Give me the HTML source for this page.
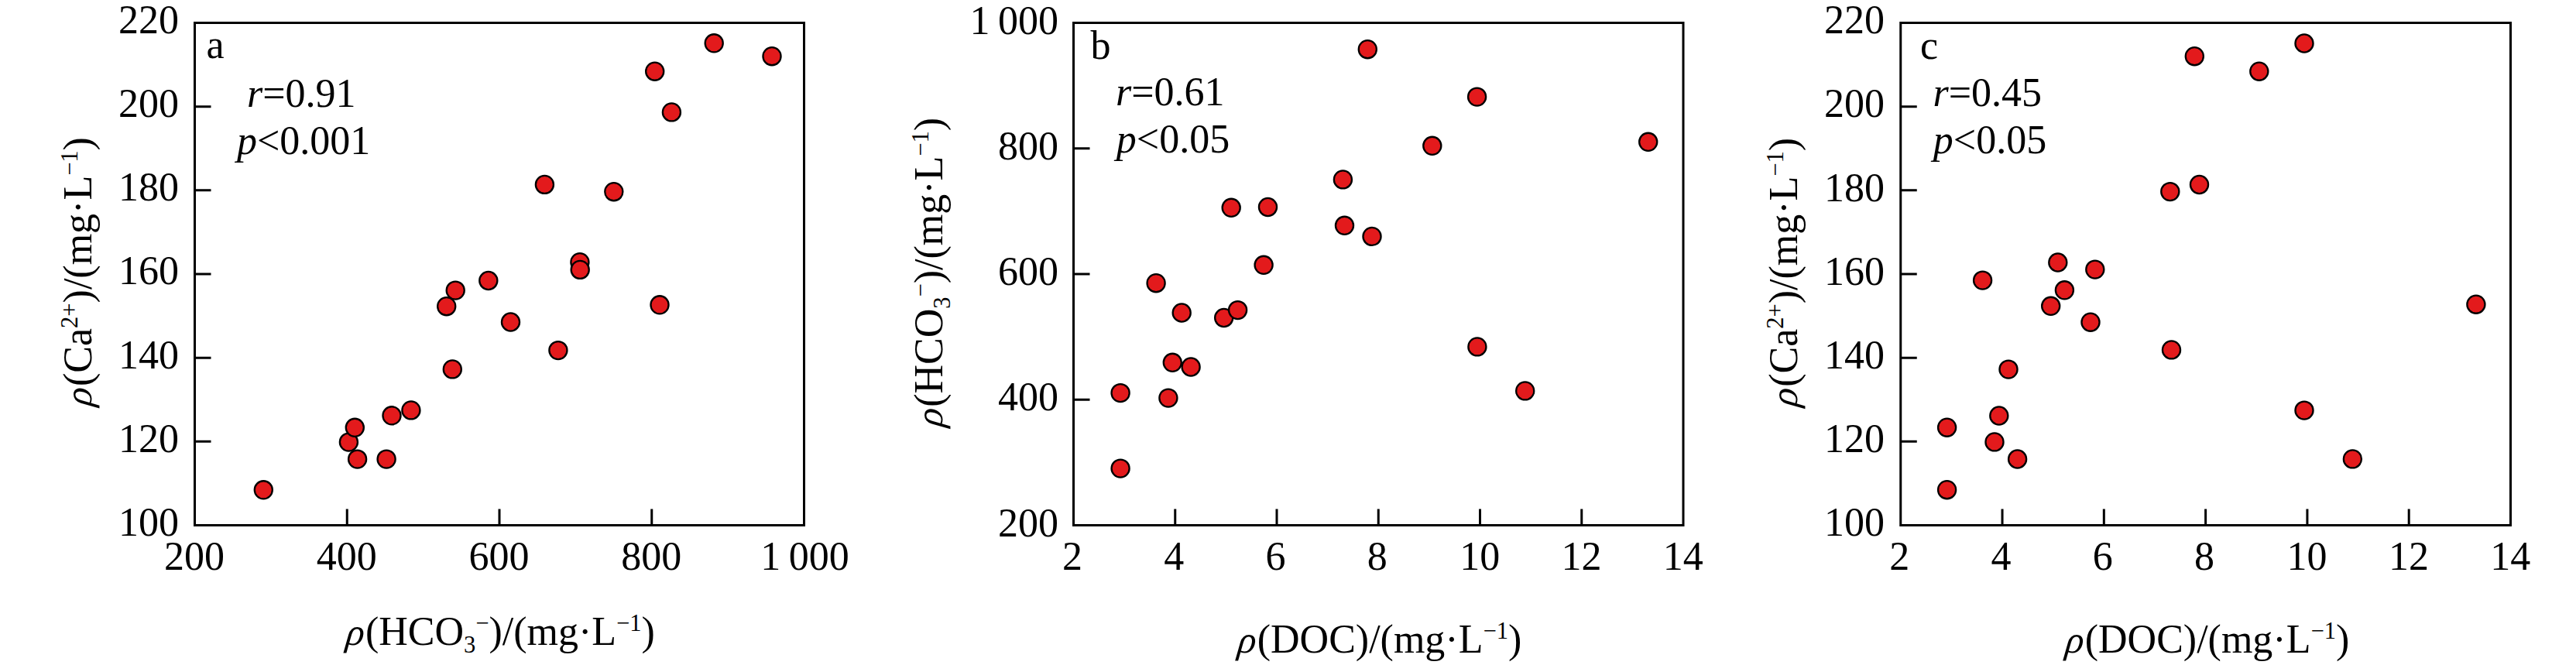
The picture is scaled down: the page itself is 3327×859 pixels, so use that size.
<!DOCTYPE html>
<html><head><meta charset="utf-8"><title>Scatter plots</title>
<style>html,body{margin:0;padding:0;background:#fff}svg{display:block}text{font-family:"Liberation Serif",serif;fill:#000}</style></head><body>
<svg width="3327" height="859" viewBox="0 0 3327 859" font-size="52">
<rect width="3327" height="859" fill="#fff"/>
<g id="panel-a">
<g fill="#e31a1c" stroke="#000" stroke-width="2.3">
<circle cx="340.3" cy="632.8" r="11.55"/>
<circle cx="461.6" cy="593.1" r="11.55"/>
<circle cx="499.1" cy="593.1" r="11.55"/>
<circle cx="450.4" cy="571.1" r="11.55"/>
<circle cx="458.3" cy="552.3" r="11.55"/>
<circle cx="506" cy="536.8" r="11.55"/>
<circle cx="530.9" cy="529.9" r="11.55"/>
<circle cx="584.3" cy="476.9" r="11.55"/>
<circle cx="576.7" cy="395.7" r="11.55"/>
<circle cx="588.2" cy="375.1" r="11.55"/>
<circle cx="630.8" cy="362.5" r="11.55"/>
<circle cx="659.5" cy="416.0" r="11.55"/>
<circle cx="748.9" cy="338.7" r="11.55"/>
<circle cx="749.2" cy="348.4" r="11.55"/>
<circle cx="852" cy="393.8" r="11.55"/>
<circle cx="703.4" cy="238.4" r="11.55"/>
<circle cx="792.8" cy="247.7" r="11.55"/>
<circle cx="720.9" cy="452.6" r="11.55"/>
<circle cx="845.7" cy="92.2" r="11.55"/>
<circle cx="867.4" cy="144.9" r="11.55"/>
<circle cx="922.2" cy="55.8" r="11.55"/>
<circle cx="997" cy="72.7" r="11.55"/>
</g>
<g stroke="#000" stroke-width="3" fill="none">
<rect x="251.5" y="29.5" width="787.0" height="649.0"/>
<path d="M251.5 137.67h21M251.5 245.83h21M251.5 354.00h21M251.5 462.17h21M251.5 570.33h21M448.25 678.5v-21M645.00 678.5v-21M841.75 678.5v-21"/>
</g>
<g text-anchor="end">
<text x="231" y="42.90">220</text>
<text x="231" y="151.07">200</text>
<text x="231" y="259.23">180</text>
<text x="231" y="367.40">160</text>
<text x="231" y="475.57">140</text>
<text x="231" y="583.73">120</text>
<text x="231" y="691.90">100</text>
</g><g text-anchor="middle">
<text x="251.00" y="736">200</text>
<text x="447.75" y="736">400</text>
<text x="644.50" y="736">600</text>
<text x="841.25" y="736">800</text>
<text x="1039.50" y="736">1 000</text>
</g>
<text transform="translate(443.25 833.4) skewX(-16)" font-size="49">ρ</text><text x="471.95" y="833.4">(HCO<tspan font-size="30.5" dy="9.5">3</tspan><tspan font-size="30.5" dy="-27.5">−</tspan><tspan dy="18">)/(mg·L</tspan><tspan font-size="30.5" dy="-18">−1</tspan><tspan dy="18">)</tspan></text>
<g transform="translate(118 350.5) rotate(-90)"><text transform="translate(-177.18 0) skewX(-16)" font-size="49">ρ</text><text x="-148.48" y="0">(Ca<tspan font-size="30.5" dy="-18">2+</tspan><tspan dy="18">)/(mg·L</tspan><tspan font-size="30.5" dy="-18">−1</tspan><tspan dy="18">)</tspan></text></g>
<text x="266.6" y="75.3">a</text>
<text text-anchor="middle" x="389.2" y="137.6"><tspan font-style="italic">r</tspan>=0.91</text>
<text text-anchor="middle" x="392.2" y="199.2"><tspan font-style="italic">p</tspan>&lt;0.001</text>
</g>
<g id="panel-b">
<g fill="#e31a1c" stroke="#000" stroke-width="2.3">
<circle cx="1447.1" cy="605.1" r="11.55"/>
<circle cx="1447.1" cy="507.6" r="11.55"/>
<circle cx="1508.9" cy="514.1" r="11.55"/>
<circle cx="1514.3" cy="468.3" r="11.55"/>
<circle cx="1538.1" cy="474.0" r="11.55"/>
<circle cx="1526.2" cy="404.0" r="11.55"/>
<circle cx="1580.7" cy="410.5" r="11.55"/>
<circle cx="1598.6" cy="400.6" r="11.55"/>
<circle cx="1493.1" cy="365.7" r="11.55"/>
<circle cx="1632.1" cy="342.3" r="11.55"/>
<circle cx="1590.2" cy="268.3" r="11.55"/>
<circle cx="1637.5" cy="267.5" r="11.55"/>
<circle cx="1734.4" cy="231.9" r="11.55"/>
<circle cx="1736.5" cy="291.3" r="11.55"/>
<circle cx="1772" cy="305.4" r="11.55"/>
<circle cx="1766.3" cy="63.7" r="11.55"/>
<circle cx="1907.6" cy="125.1" r="11.55"/>
<circle cx="1849.8" cy="188.3" r="11.55"/>
<circle cx="2128.7" cy="183.3" r="11.55"/>
<circle cx="1907.9" cy="447.9" r="11.55"/>
<circle cx="1969.7" cy="504.9" r="11.55"/>
</g>
<g stroke="#000" stroke-width="3" fill="none">
<rect x="1386.5" y="29.5" width="787.5" height="649.0"/>
<path d="M1386.5 191.75h21M1386.5 354.00h21M1386.5 516.25h21M1517.75 678.5v-21M1649.00 678.5v-21M1780.25 678.5v-21M1911.50 678.5v-21M2042.75 678.5v-21"/>
</g>
<g text-anchor="end">
<text x="1367" y="43.50">1 000</text>
<text x="1367" y="205.75">800</text>
<text x="1367" y="368.00">600</text>
<text x="1367" y="530.25">400</text>
<text x="1367" y="692.50">200</text>
</g><g text-anchor="middle">
<text x="1385.00" y="736">2</text>
<text x="1516.25" y="736">4</text>
<text x="1647.50" y="736">6</text>
<text x="1778.75" y="736">8</text>
<text x="1911.20" y="736">10</text>
<text x="2042.45" y="736">12</text>
<text x="2173.70" y="736">14</text>
</g>
<text transform="translate(1595.03 843.2) skewX(-16)" font-size="49">ρ</text><text x="1623.73" y="843.2">(DOC)/(mg·L<tspan font-size="30.5" dy="-18">−1</tspan><tspan dy="18">)</tspan></text>
<g transform="translate(1217 351.3) rotate(-90)"><text transform="translate(-203.20 0) skewX(-16)" font-size="49">ρ</text><text x="-174.50" y="0">(HCO<tspan font-size="30.5" dy="9.5">3</tspan><tspan font-size="30.5" dy="-27.5">−</tspan><tspan dy="18">)/(mg·L</tspan><tspan font-size="30.5" dy="-18">−1</tspan><tspan dy="18">)</tspan></text></g>
<text x="1408.6" y="75.9">b</text>
<text text-anchor="middle" x="1511.3" y="135.9"><tspan font-style="italic">r</tspan>=0.61</text>
<text text-anchor="middle" x="1515" y="197.2"><tspan font-style="italic">p</tspan>&lt;0.05</text>
</g>
<g id="panel-c">
<g fill="#e31a1c" stroke="#000" stroke-width="2.3">
<circle cx="2514.6" cy="632.7" r="11.55"/>
<circle cx="2514.6" cy="552.2" r="11.55"/>
<circle cx="2576" cy="570.9" r="11.55"/>
<circle cx="2605.6" cy="593.0" r="11.55"/>
<circle cx="2581.8" cy="537.0" r="11.55"/>
<circle cx="2594" cy="477.1" r="11.55"/>
<circle cx="2804.5" cy="451.9" r="11.55"/>
<circle cx="2700" cy="416.2" r="11.55"/>
<circle cx="2560.6" cy="362.1" r="11.55"/>
<circle cx="2657.8" cy="339.0" r="11.55"/>
<circle cx="2705.8" cy="348.1" r="11.55"/>
<circle cx="2666.4" cy="374.8" r="11.55"/>
<circle cx="2648.7" cy="395.3" r="11.55"/>
<circle cx="2802.8" cy="247.6" r="11.55"/>
<circle cx="2840.5" cy="238.5" r="11.55"/>
<circle cx="2834.3" cy="72.7" r="11.55"/>
<circle cx="2917.8" cy="92.2" r="11.55"/>
<circle cx="2976" cy="56.0" r="11.55"/>
<circle cx="3197.9" cy="393.2" r="11.55"/>
<circle cx="2976" cy="530.1" r="11.55"/>
<circle cx="3038.4" cy="592.9" r="11.55"/>
</g>
<g stroke="#000" stroke-width="3" fill="none">
<rect x="2454.75" y="29.5" width="787.75" height="649.0"/>
<path d="M2454.75 137.67h21M2454.75 245.83h21M2454.75 354.00h21M2454.75 462.17h21M2454.75 570.33h21M2586.04 678.5v-21M2717.33 678.5v-21M2848.62 678.5v-21M2979.92 678.5v-21M3111.21 678.5v-21"/>
</g>
<g text-anchor="end">
<text x="2434" y="43.20">220</text>
<text x="2434" y="151.37">200</text>
<text x="2434" y="259.53">180</text>
<text x="2434" y="367.70">160</text>
<text x="2434" y="475.87">140</text>
<text x="2434" y="584.03">120</text>
<text x="2434" y="692.20">100</text>
</g><g text-anchor="middle">
<text x="2453.25" y="736">2</text>
<text x="2584.54" y="736">4</text>
<text x="2715.83" y="736">6</text>
<text x="2847.12" y="736">8</text>
<text x="2979.62" y="736">10</text>
<text x="3110.91" y="736">12</text>
<text x="3242.20" y="736">14</text>
</g>
<text transform="translate(2664.03 843.2) skewX(-16)" font-size="49">ρ</text><text x="2692.73" y="843.2">(DOC)/(mg·L<tspan font-size="30.5" dy="-18">−1</tspan><tspan dy="18">)</tspan></text>
<g transform="translate(2321 351.3) rotate(-90)"><text transform="translate(-177.18 0) skewX(-16)" font-size="49">ρ</text><text x="-148.48" y="0">(Ca<tspan font-size="30.5" dy="-18">2+</tspan><tspan dy="18">)/(mg·L</tspan><tspan font-size="30.5" dy="-18">−1</tspan><tspan dy="18">)</tspan></text></g>
<text x="2480" y="75.5">c</text>
<text text-anchor="middle" x="2566.8" y="136.6"><tspan font-style="italic">r</tspan>=0.45</text>
<text text-anchor="middle" x="2570" y="197.8"><tspan font-style="italic">p</tspan>&lt;0.05</text>
</g>
</svg></body></html>
